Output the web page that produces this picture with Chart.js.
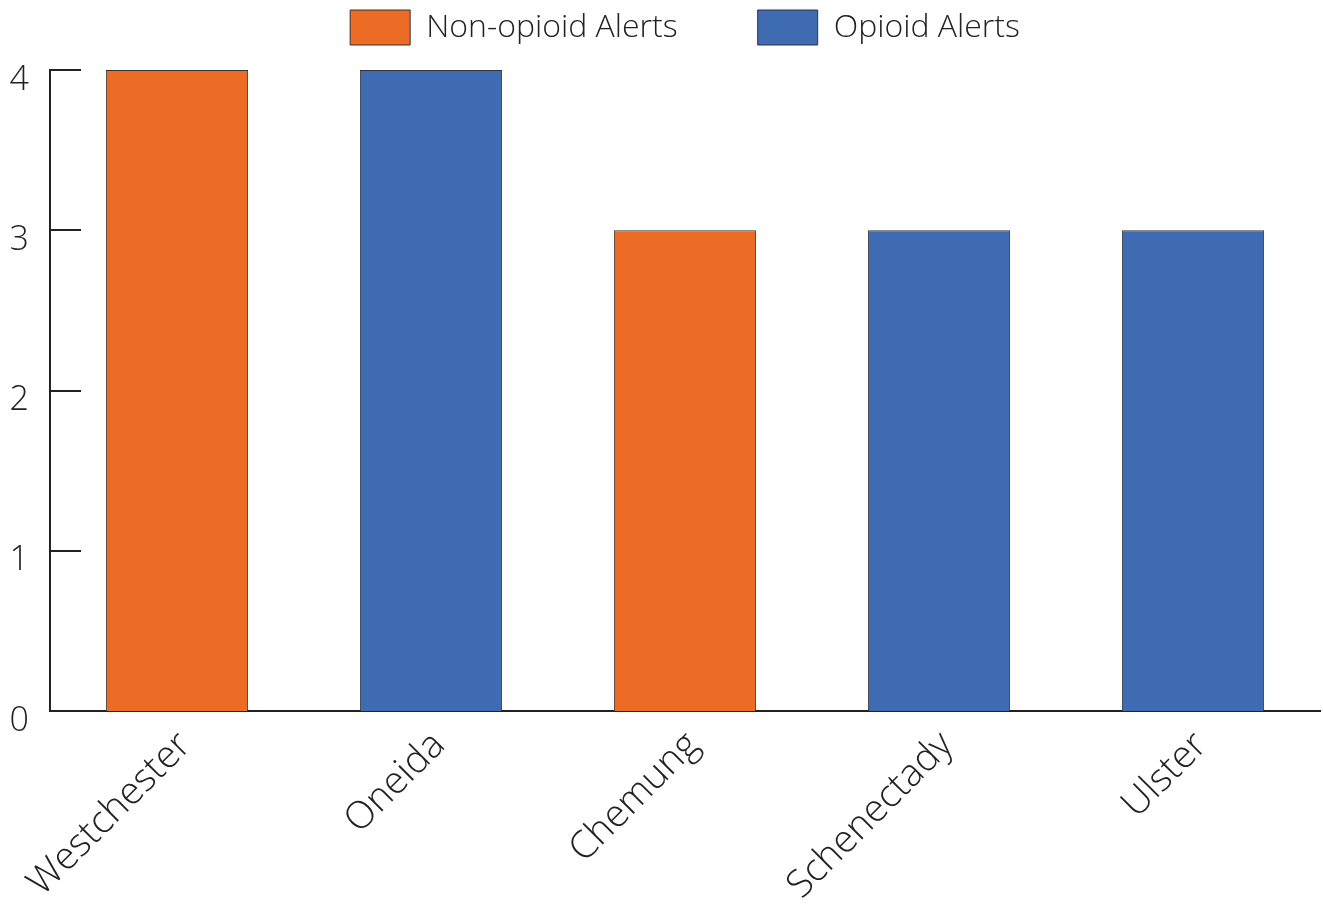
<!DOCTYPE html>
<html>
<head>
<meta charset="utf-8">
<script src="https://cdn.jsdelivr.net/npm/chart.js@4.4.1/dist/chart.umd.min.js"></script>
<style>
  html, body { margin: 0; padding: 0; background: #ffffff; }
  #wrap { width: 1323px; height: 908px; }
</style>
</head>
<body>
<div id="wrap"><canvas id="chart" width="1323" height="908"></canvas></div>
<script>
// Alert counts by county
const counties = ['Westchester', 'Oneida', 'Chemung', 'Schenectady', 'Ulster'];
const nonOpioidAlerts = [4, null, 3, null, null];
const opioidAlerts = [null, 4, null, 3, 3];
const yTicks = [0, 1, 2, 3, 4];

const ORANGE = '#ED6C25';
const BLUE = '#3F6BB3';
const INK = '#222222';
const FONT = '"Open Sans", sans-serif';

// Short tick marks drawn inward from the y axis line
const innerTicks = {
  id: 'innerTicks',
  afterDatasetsDraw(chart) {
    const y = chart.scales.y;
    const ctx = chart.ctx;
    ctx.save();
    ctx.strokeStyle = INK;
    ctx.lineWidth = 2;
    y.ticks.forEach(t => {
      const py = Math.round(y.getPixelForValue(t.value));
      ctx.beginPath();
      ctx.moveTo(chart.chartArea.left, py);
      ctx.lineTo(chart.chartArea.left + 31, py);
      ctx.stroke();
    });
    ctx.restore();
  }
};

new Chart(document.getElementById('chart'), {
  type: 'bar',
  data: {
    labels: counties,
    datasets: [
      {
        label: 'Non-opioid Alerts',
        data: nonOpioidAlerts,
        xAxisID: 'x',
        yAxisID: 'y',
        backgroundColor: ORANGE,
        borderColor: '#333333',
        borderWidth: 1
      },
      {
        label: 'Opioid Alerts',
        data: opioidAlerts,
        xAxisID: 'x',
        yAxisID: 'y',
        backgroundColor: BLUE,
        borderColor: '#333333',
        borderWidth: 1
      }
    ]
  },
  options: {
    responsive: false,
    animation: false,
    layout: { padding: { top: -70, left: 0, right: 3, bottom: 0 } },
    datasets: {
      bar: { categoryPercentage: 0.56, barPercentage: 1 }
    },
    plugins: {
      legend: {
        position: 'top',
        fullSize: false,
        labels: {
          boxWidth: 60,
          boxHeight: 35,
          padding: 80,
          color: INK,
          font: { family: FONT, size: 32, weight: 300 }
        }
      },
      tooltip: { enabled: false }
    },
    scales: {
      x: {
        stacked: true,
        grid: { display: false, drawTicks: false },
        border: { display: true, color: INK, width: 2 },
        ticks: {
          color: INK,
          minRotation: 45,
          maxRotation: 45,
          padding: 12,
          labelOffset: 8,
          font: { family: FONT, size: 38, weight: 300 }
        },
        afterFit(scale) { scale.height = 197; }
      },
      // spacer between the legend and the plot
      gap: {
        type: 'category',
        position: 'top',
        grid: { display: false, drawTicks: false },
        border: { display: false },
        ticks: { display: false },
        afterFit(scale) { scale.height = 15; }
      },
      y: {
        stacked: true,
        min: 0,
        max: 4,
        grid: { display: false, drawTicks: false },
        border: { display: true, color: INK, width: 2 },
        afterBuildTicks(scale) { scale.ticks = yTicks.map(v => ({ value: v })); },
        ticks: {
          color: INK,
          padding: 21,
          labelOffset: 10,
          font: { family: FONT, size: 34, weight: 300 }
        },
        afterFit(scale) { scale.width = 50; }
      }
    }
  },
  plugins: [innerTicks]
});
</script>
</body>
</html>
